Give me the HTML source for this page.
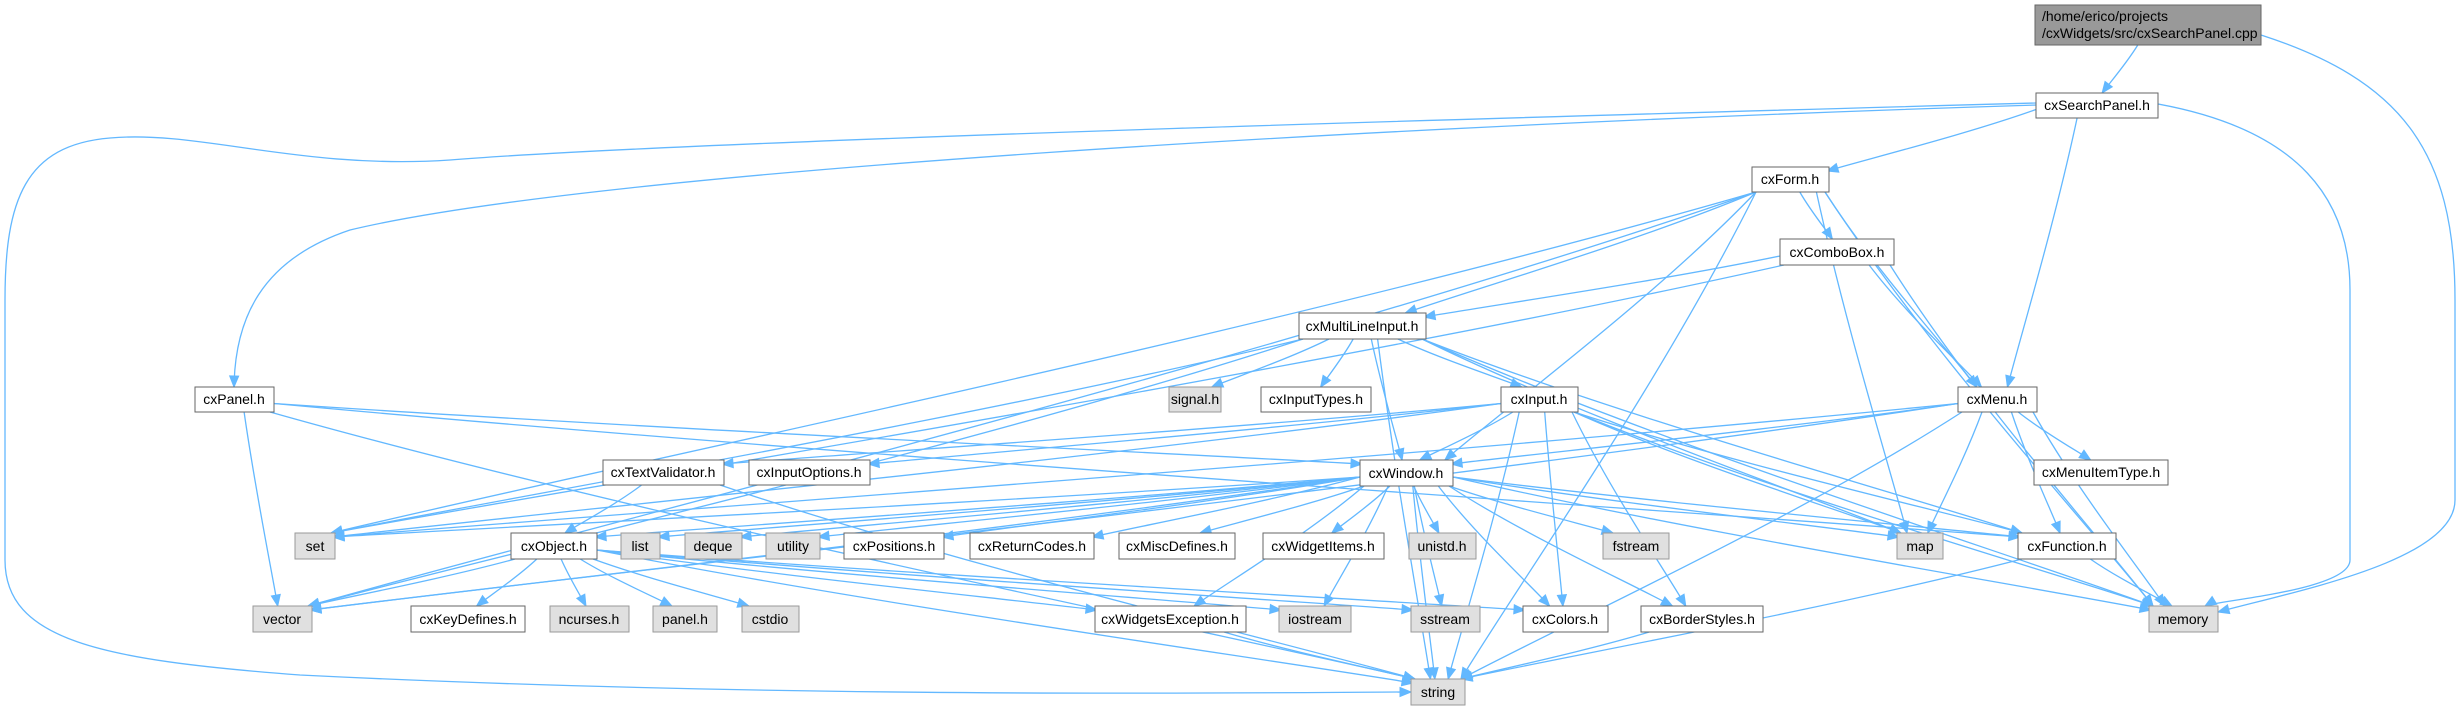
<!DOCTYPE html>
<html><head><meta charset="utf-8"><style>
html,body{margin:0;padding:0;background:#fff;}
svg{display:block;}
text{font-family:"Liberation Sans",Arial,sans-serif;font-size:14px;fill:#000;}
</style></head><body>
<svg id="g" width="2464" height="711" viewBox="0 0 2464 711" xmlns="http://www.w3.org/2000/svg">
<g id="edges" fill="none" stroke="#63b8ff" stroke-width="1.3"></g>
<g id="heads" fill="#63b8ff" stroke="#63b8ff" stroke-width="1"></g>
<g id="nodes">
<rect x="2035" y="5" width="226" height="40" fill="#999999" stroke="#666"/>
<text x="2042" y="21">/home/erico/projects</text>
<text x="2042" y="38">/cxWidgets/src/cxSearchPanel.cpp</text>
<rect x="2036" y="93" width="122" height="25" fill="#fff" stroke="#666"/><text x="2097" y="110" text-anchor="middle">cxSearchPanel.h</text>
<rect x="1752" y="167" width="77" height="25" fill="#fff" stroke="#666"/><text x="1790" y="184" text-anchor="middle">cxForm.h</text>
<rect x="1780" y="239" width="114" height="26" fill="#fff" stroke="#666"/><text x="1837" y="257" text-anchor="middle">cxComboBox.h</text>
<rect x="1299" y="313" width="127" height="26" fill="#fff" stroke="#666"/><text x="1362" y="331" text-anchor="middle">cxMultiLineInput.h</text>
<rect x="195" y="387" width="79" height="25" fill="#fff" stroke="#666"/><text x="234" y="404" text-anchor="middle">cxPanel.h</text>
<rect x="1169" y="387" width="52" height="25" fill="#e0e0e0" stroke="#999"/><text x="1195" y="404" text-anchor="middle">signal.h</text>
<rect x="1261" y="387" width="110" height="25" fill="#fff" stroke="#666"/><text x="1316" y="404" text-anchor="middle">cxInputTypes.h</text>
<rect x="1501" y="387" width="77" height="25" fill="#fff" stroke="#666"/><text x="1539" y="404" text-anchor="middle">cxInput.h</text>
<rect x="1958" y="387" width="79" height="25" fill="#fff" stroke="#666"/><text x="1997" y="404" text-anchor="middle">cxMenu.h</text>
<rect x="603" y="460" width="121" height="25" fill="#fff" stroke="#666"/><text x="663" y="477" text-anchor="middle">cxTextValidator.h</text>
<rect x="749" y="460" width="121" height="25" fill="#fff" stroke="#666"/><text x="809" y="477" text-anchor="middle">cxInputOptions.h</text>
<rect x="1360" y="460" width="93" height="26" fill="#fff" stroke="#666"/><text x="1406" y="478" text-anchor="middle">cxWindow.h</text>
<rect x="2034" y="460" width="134" height="25" fill="#fff" stroke="#666"/><text x="2101" y="477" text-anchor="middle">cxMenuItemType.h</text>
<rect x="295" y="533" width="40" height="26" fill="#e0e0e0" stroke="#999"/><text x="315" y="551" text-anchor="middle">set</text>
<rect x="511" y="533" width="86" height="26" fill="#fff" stroke="#666"/><text x="554" y="551" text-anchor="middle">cxObject.h</text>
<rect x="621" y="533" width="39" height="26" fill="#e0e0e0" stroke="#999"/><text x="640" y="551" text-anchor="middle">list</text>
<rect x="685" y="533" width="57" height="26" fill="#e0e0e0" stroke="#999"/><text x="713" y="551" text-anchor="middle">deque</text>
<rect x="766" y="533" width="54" height="26" fill="#e0e0e0" stroke="#999"/><text x="793" y="551" text-anchor="middle">utility</text>
<rect x="844" y="533" width="100" height="26" fill="#fff" stroke="#666"/><text x="894" y="551" text-anchor="middle">cxPositions.h</text>
<rect x="970" y="533" width="124" height="26" fill="#fff" stroke="#666"/><text x="1032" y="551" text-anchor="middle">cxReturnCodes.h</text>
<rect x="1119" y="533" width="116" height="26" fill="#fff" stroke="#666"/><text x="1177" y="551" text-anchor="middle">cxMiscDefines.h</text>
<rect x="1263" y="533" width="121" height="26" fill="#fff" stroke="#666"/><text x="1323" y="551" text-anchor="middle">cxWidgetItems.h</text>
<rect x="1409" y="533" width="67" height="26" fill="#e0e0e0" stroke="#999"/><text x="1442" y="551" text-anchor="middle">unistd.h</text>
<rect x="1603" y="533" width="66" height="26" fill="#e0e0e0" stroke="#999"/><text x="1636" y="551" text-anchor="middle">fstream</text>
<rect x="1897" y="533" width="46" height="26" fill="#e0e0e0" stroke="#999"/><text x="1920" y="551" text-anchor="middle">map</text>
<rect x="2018" y="533" width="98" height="26" fill="#fff" stroke="#666"/><text x="2067" y="551" text-anchor="middle">cxFunction.h</text>
<rect x="253" y="606" width="59" height="26" fill="#e0e0e0" stroke="#999"/><text x="282" y="624" text-anchor="middle">vector</text>
<rect x="411" y="606" width="114" height="26" fill="#fff" stroke="#666"/><text x="468" y="624" text-anchor="middle">cxKeyDefines.h</text>
<rect x="550" y="606" width="79" height="26" fill="#e0e0e0" stroke="#999"/><text x="589" y="624" text-anchor="middle">ncurses.h</text>
<rect x="653" y="606" width="64" height="26" fill="#e0e0e0" stroke="#999"/><text x="685" y="624" text-anchor="middle">panel.h</text>
<rect x="742" y="606" width="57" height="26" fill="#e0e0e0" stroke="#999"/><text x="770" y="624" text-anchor="middle">cstdio</text>
<rect x="1095" y="606" width="151" height="26" fill="#fff" stroke="#666"/><text x="1170" y="624" text-anchor="middle">cxWidgetsException.h</text>
<rect x="1279" y="606" width="72" height="26" fill="#e0e0e0" stroke="#999"/><text x="1315" y="624" text-anchor="middle">iostream</text>
<rect x="1411" y="606" width="69" height="26" fill="#e0e0e0" stroke="#999"/><text x="1445" y="624" text-anchor="middle">sstream</text>
<rect x="1523" y="606" width="85" height="26" fill="#fff" stroke="#666"/><text x="1565" y="624" text-anchor="middle">cxColors.h</text>
<rect x="1641" y="606" width="122" height="26" fill="#fff" stroke="#666"/><text x="1702" y="624" text-anchor="middle">cxBorderStyles.h</text>
<rect x="2149" y="606" width="69" height="26" fill="#e0e0e0" stroke="#999"/><text x="2183" y="624" text-anchor="middle">memory</text>
<rect x="1411" y="679" width="54" height="26" fill="#e0e0e0" stroke="#999"/><text x="1438" y="697" text-anchor="middle">string</text>
</g>
</svg>
<script>
var N={cpp:[2035,2261,5,45],sp:[2036,2158,93,118],form:[1752,1829,167,192],combo:[1780,1894,239,265],mli:[1299,1426,313,339],
panel:[195,274,387,412],signal:[1169,1221,387,412],itypes:[1261,1371,387,412],input:[1501,1578,387,412],menu:[1958,2037,387,412],
tv:[603,724,460,485],iopt:[749,870,460,485],win:[1360,1453,460,486],mit:[2034,2168,460,485],
set:[295,335,533,559],obj:[511,597,533,559],list:[621,660,533,559],deque:[685,742,533,559],util:[766,820,533,559],pos:[844,944,533,559],
rc:[970,1094,533,559],misc:[1119,1235,533,559],wi:[1263,1384,533,559],unistd:[1409,1476,533,559],fstream:[1603,1669,533,559],
map:[1897,1943,533,559],func:[2018,2116,533,559],vector:[253,312,606,632],kd:[411,525,606,632],ncurses:[550,629,606,632],
panelh:[653,717,606,632],cstdio:[742,799,606,632],wex:[1095,1246,606,632],iostream:[1279,1351,606,632],sstream:[1411,1480,606,632],
colors:[1523,1608,606,632],bs:[1641,1763,606,632],memory:[2149,2218,606,632],string:[1411,1465,679,705]};
var E=[['cpp','sp'],['sp','form'],['sp','menu'],['form','combo'],['form','mli'],['form','win'],['form','menu'],['form','map'],['form','memory'],['form','string'],['form','set'],['form','vector'],
['combo','mli'],['combo','menu'],['combo','memory'],['combo','set'],
['mli','signal'],['mli','itypes'],['mli','input'],['mli','win'],['mli','func'],['mli','map'],['mli','memory'],['mli','set'],['mli','vector'],['mli','string'],
['input','tv'],['input','iopt'],['input','set'],['input','win'],['input','func'],['input','map'],['input','memory'],['input','string'],['input','colors'],['input','bs'],
['menu','win'],['menu','mit'],['menu','func'],['menu','map'],['menu','memory'],['menu','string'],['menu','set'],['menu','vector'],
['panel','win'],['panel','vector'],['panel','string'],['panel','func'],
['tv','obj'],['tv','string'],
['win','set'],['win','obj'],['win','list'],['win','deque'],['win','util'],['win','pos'],['win','rc'],['win','misc'],['win','wi'],['win','unistd'],['win','fstream'],['win','map'],['win','func'],['win','memory'],['win','iostream'],['win','sstream'],['win','colors'],['win','bs'],['win','vector'],['win','string'],['win','wex'],
['obj','vector'],['obj','kd'],['obj','ncurses'],['obj','panelh'],['obj','cstdio'],['obj','wex'],['obj','iostream'],['obj','sstream'],['obj','colors'],['obj','string'],
['func','memory'],['func','string'],['wex','string'],['bs','string']];
var eg=document.getElementById('edges'),hg=document.getElementById('heads'),ns='http://www.w3.org/2000/svg';
function cl(v,a,b){return Math.max(a+4,Math.min(b-4,v));}
function add(d,ex,ey,px,py){var p=document.createElementNS(ns,'path');p.setAttribute('d',d);eg.appendChild(p);
var dx=ex-px,dy=ey-py,l=Math.hypot(dx,dy)||1;dx/=l;dy/=l;var bx=ex-dx*11,by=ey-dy*11;
var h=document.createElementNS(ns,'path');h.setAttribute('d','M'+ex+','+ey+'L'+(bx-dy*4.5)+','+(by+dx*4.5)+'L'+(bx+dy*4.5)+','+(by-dx*4.5)+'Z');hg.appendChild(h);}
E.forEach(function(e){var s=N[e[0]],t=N[e[1]];var scx=(s[0]+s[1])/2,tcx=(t[0]+t[1])/2;
var sx,sy,tx,ty;
var dyRows=t[2]-s[3];var dxc=tcx-scx;
if(Math.abs(dxc)>6*Math.max(dyRows,10)){
 // mostly horizontal: leave from side, enter at side/top corner
 sx=dxc<0?s[0]:s[1];sy=(s[2]+s[3])/2+4;
 tx=dxc<0?t[1]-2:t[0]+2;ty=t[2]+4;
}else{
 sx=cl(scx+dxc*0.2,s[0],s[1]);sy=s[3];tx=cl(tcx-dxc*0.1,t[0],t[1]);ty=t[2];
}
var c1x=sx+(tx-sx)*0.33,c1y=sy+(ty-sy)*0.4,c2x=sx+(tx-sx)*0.8,c2y=sy+(ty-sy)*0.8;
add('M'+sx+','+sy+'C'+c1x+','+c1y+' '+c2x+','+c2y+' '+tx+','+ty,tx,ty,c2x,c2y);});
add('M2261,35C2400,80 2455,150 2455,300L2455,500C2455,560 2300,590 2218,612',2218,612,2300,590);
add('M2158,104C2300,130 2350,200 2350,290L2350,560C2350,590 2220,600 2205,606',2205,606,2215,600);
add('M2036,103C1600,115 700,140 450,160C300,170 200,130 110,138C25,145 5,200 5,300L5,560C5,640 100,660 300,675C800,700 1300,692 1411,692',1411,692,1300,692);
add('M2036,105C1400,125 600,170 350,230C260,260 235,320 234,387',234,387,235,320);
</script>
</body></html>
